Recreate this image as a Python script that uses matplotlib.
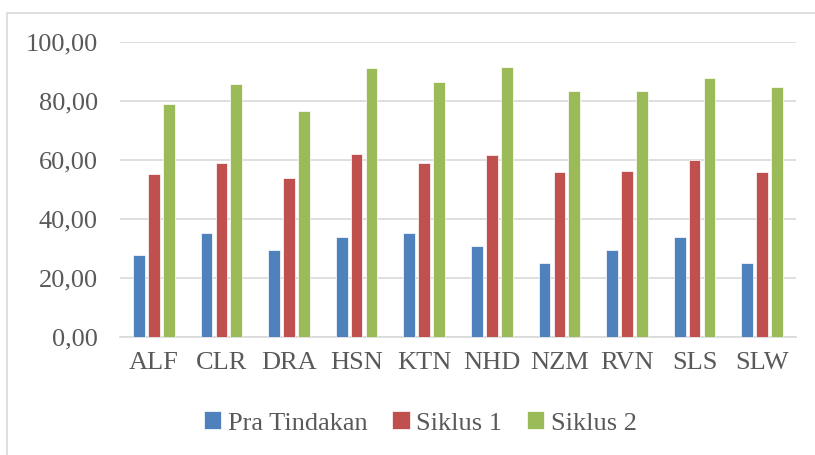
import numpy as np
import matplotlib
matplotlib.use("Agg")
import matplotlib.pyplot as plt
from matplotlib.patches import Rectangle

# data
students = ['ALF', 'CLR', 'DRA', 'HSN', 'KTN', 'NHD', 'NZM', 'RVN', 'SLS', 'SLW']
pra_tindakan = [27.9, 35.3, 29.5, 33.8, 35.3, 30.9, 25.0, 29.5, 33.8, 25.0]
siklus_1 = [55.3, 58.9, 53.9, 62.0, 58.9, 61.8, 56.0, 56.2, 60.1, 56.0]
siklus_2 = [78.9, 85.7, 76.5, 91.3, 86.4, 91.6, 83.5, 83.5, 87.8, 84.8]
series_names = ['Pra Tindakan', 'Siklus 1', 'Siklus 2']
colors = ['#4F81BD', '#C0504D', '#9BBB59']
yticks = [0, 20, 40, 60, 80, 100]

plt.rcParams['font.family'] = ['Liberation Serif', 'DejaVu Serif']
text_color = '#595959'
grid_color = '#D9D9D9'

fig = plt.figure(figsize=(8.15, 4.55), dpi=100)
ax = fig.add_axes([120 / 815, 1 - 337 / 455, 676 / 815, 295 / 455])

# light chart-area frame (Excel style), right and bottom edges fall outside
fig.patches.append(Rectangle((7 / 815, -0.1), 1.2, 1.1 - 13 / 455,
                             transform=fig.transFigure, fill=False,
                             edgecolor=grid_color, linewidth=1.2))

x = np.arange(len(students))
width = 0.173
step = 0.22
for i, (vals, name) in enumerate(zip([pra_tindakan, siklus_1, siklus_2], series_names)):
    ax.bar(x + (i - 1) * step, vals, width, color=colors[i], label=name,
           edgecolor='white', linewidth=0.5, zorder=3)

ax.set_xlim(-0.5, len(students) - 0.5)
ax.set_ylim(0, 100)
ax.set_yticks(yticks)
ax.set_yticklabels([f"{v:.2f}".replace('.', ',') for v in yticks])
ax.set_xticks(x)
ax.set_xticklabels(students)

ax.yaxis.grid(True, color=grid_color, linewidth=1.2, zorder=0)
for s in ['top', 'right', 'left']:
    ax.spines[s].set_visible(False)
ax.spines['bottom'].set_color(grid_color)
ax.spines['bottom'].set_linewidth(1.2)
ax.tick_params(axis='both', length=0, labelsize=19, colors=text_color)
ax.tick_params(axis='y', pad=16)
ax.tick_params(axis='x', pad=11)

fig.legend(loc='center', bbox_to_anchor=(0.516, 1 - 423 / 455), ncol=3,
           frameon=False, fontsize=19, handlelength=0.65, handleheight=0.65,
           handletextpad=0.25, columnspacing=0.95, labelcolor=text_color)

fig.savefig('out.png', dpi=100)
